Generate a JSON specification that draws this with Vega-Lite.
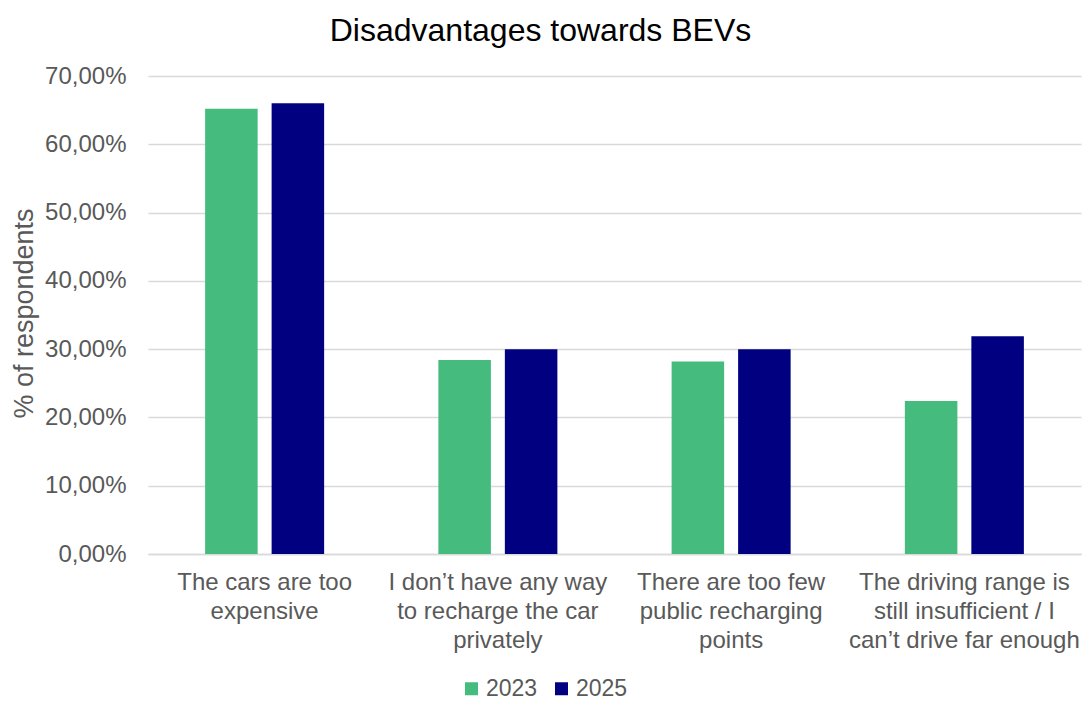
{
  "$schema": "https://vega.github.io/schema/vega-lite/v6.json",
  "width": 933,
  "height": 478,
  "autosize": {"type": "none"},
  "padding": {"left": 148, "top": 76, "right": 3, "bottom": 148},
  "background": "white",
  "title": {
    "text": "Disadvantages towards BEVs",
    "font": "Liberation Sans",
    "fontSize": 32,
    "fontWeight": "normal",
    "color": "#000000",
    "anchor": "middle",
    "frame": "group",
    "offset": 16,
    "dx": -74
  },
  "data": {
    "values": [
      {"reason": "The cars are too|expensive", "year": "2023", "share": 65.2},
      {"reason": "The cars are too|expensive", "year": "2025", "share": 66.0},
      {"reason": "I don’t have any way|to recharge the car|privately", "year": "2023", "share": 28.4},
      {"reason": "I don’t have any way|to recharge the car|privately", "year": "2025", "share": 30.0},
      {"reason": "There are too few|public recharging|points", "year": "2023", "share": 28.2},
      {"reason": "There are too few|public recharging|points", "year": "2025", "share": 30.0},
      {"reason": "The driving range is|still insufficient / I|can’t drive far enough", "year": "2023", "share": 22.4},
      {"reason": "The driving range is|still insufficient / I|can’t drive far enough", "year": "2025", "share": 31.9}
    ]
  },
  "mark": {"type": "bar"},
  "encoding": {
    "x": {
      "field": "reason",
      "type": "nominal",
      "sort": null,
      "scale": {"paddingInner": 0, "paddingOuter": 0},
      "axis": {
        "title": null,
        "labelAngle": 0,
        "labelExpr": "split(datum.label, '|')",
        "labelFont": "Liberation Sans",
        "labelFontSize": 24,
        "labelLineHeight": 29,
        "labelColor": "#595959",
        "labelPadding": 16,
        "labelLimit": 300,
        "ticks": false,
        "tickSize": 0,
        "domainColor": "#d9d9d9",
        "domainWidth": 1.5
      }
    },
    "xOffset": {
      "field": "year",
      "type": "nominal",
      "scale": {"paddingInner": 0.21, "paddingOuter": 0.859}
    },
    "y": {
      "field": "share",
      "type": "quantitative",
      "scale": {"domain": [0, 70]},
      "axis": {
        "title": "% of respondents",
        "titleFont": "Liberation Sans",
        "titleFontSize": 27,
        "titleFontWeight": "normal",
        "titleColor": "#595959",
        "titleAngle": -90,
        "titleAlign": "center",
        "titleBaseline": "middle",
        "titleX": -124,
        "titleY": 237,
        "values": [0, 10, 20, 30, 40, 50, 60, 70],
        "labelExpr": "replace(format(datum.value, '.2f'), '.', ',') + '%'",
        "labelFont": "Liberation Sans",
        "labelFontSize": 24,
        "labelColor": "#595959",
        "labelPadding": 22,
        "ticks": false,
        "tickSize": 0,
        "domain": false,
        "grid": true,
        "gridColor": "#d9d9d9",
        "gridWidth": 1.5
      }
    },
    "color": {
      "field": "year",
      "type": "nominal",
      "scale": {"domain": ["2023", "2025"], "range": ["#45bb7e", "#000080"]},
      "legend": {
        "title": null,
        "orient": "none",
        "direction": "horizontal",
        "legendX": 312,
        "legendY": 601,
        "symbolType": "square",
        "symbolSize": 169,
        "symbolStrokeWidth": 0,
        "labelFont": "Liberation Sans",
        "labelFontSize": 23,
        "labelColor": "#595959",
        "labelOffset": 3,
        "labelLimit": 200,
        "columnPadding": 12
      }
    }
  },
  "config": {
    "view": {"stroke": null}
  }
}
